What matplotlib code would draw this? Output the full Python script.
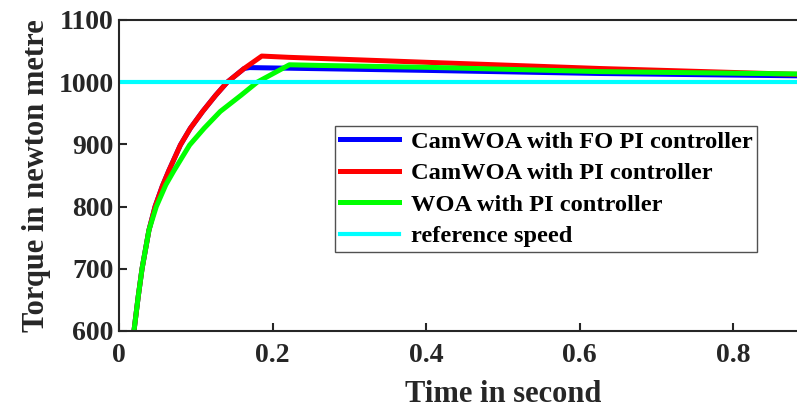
import matplotlib
matplotlib.use("Agg")
import matplotlib.pyplot as plt

# values
t_red = [0.0195, 0.025, 0.030, 0.039, 0.047, 0.0565, 0.065, 0.080, 0.093, 0.109,
         0.126, 0.141, 0.163, 0.186, 0.221, 0.40, 0.627, 0.90]
y_red = [600, 655, 700, 762, 800, 833, 858, 899, 926, 953,
         979, 1000, 1022, 1042, 1040, 1032, 1022, 1012]

t_blue = [0.0195, 0.025, 0.030, 0.039, 0.047, 0.0565, 0.065, 0.080, 0.093, 0.109,
          0.126, 0.141, 0.163, 0.170, 0.221, 0.40, 0.627, 0.90]
y_blue = [600, 655, 700, 762, 800, 833, 858, 899, 926, 953,
          979, 1000, 1022, 1023.5, 1022.5, 1019, 1014, 1010]

t_green = [0.0195, 0.025, 0.030, 0.039, 0.0486, 0.061, 0.0717, 0.092, 0.111, 0.132,
           0.159, 0.180, 0.213, 0.222, 0.26, 0.40, 0.627, 0.90]
y_green = [600, 655, 700, 762, 800, 835, 858, 899, 926, 953,
           979, 1000, 1022, 1028, 1027, 1024, 1017, 1013]

t_ref = [0.0, 1.0]
y_ref = [1000, 1000]

x_ticks = [0, 0.2, 0.4, 0.6, 0.8]
x_ticklabels = ["0", "0.2", "0.4", "0.6", "0.8"]
y_ticks = [600, 700, 800, 900, 1000, 1100]

labels = ["CamWOA with FO PI controller", "CamWOA with PI controller",
          "WOA with PI controller", "reference speed"]

plt.rcParams["font.family"] = ["Liberation Serif", "DejaVu Serif"]
plt.rcParams["font.weight"] = "bold"

fig = plt.figure(figsize=(7.97, 4.08), dpi=100)
# right edge of the axes runs past the figure, as in the reference
ax = fig.add_axes([119 / 797, 1 - 331 / 408, 767.5 / 797, 311 / 408])

ax.plot(t_blue, y_blue, color="#0000ff", lw=3.6, label=labels[0])
ax.plot(t_red, y_red, color="#ff0000", lw=3.6, label=labels[1])
ax.plot(t_green, y_green, color="#00ff00", lw=3.6, label=labels[2])
ax.plot(t_ref, y_ref, color="#00ffff", lw=3.0, label=labels[3])

ax.set_xlim(0, 1)
ax.set_ylim(600, 1100)
ax.set_xticks(x_ticks)
ax.set_xticklabels(x_ticklabels)
ax.set_yticks(y_ticks)
ax.tick_params(direction="in", length=6, width=1.5, labelsize=20, colors="#262626",
               labelcolor="#262626")
ax.tick_params(axis="x", pad=9)
ax.tick_params(axis="y", pad=4)
for s in ax.spines.values():
    s.set_linewidth(1.5)
    s.set_color("#262626")

ax.set_xlabel("Time in second", fontsize=22, fontweight="bold", color="#262626", labelpad=8)
ax.set_ylabel("Torque in newton metre", fontsize=22, fontweight="bold", color="#262626", labelpad=5)

leg = ax.legend(loc="upper left", bbox_to_anchor=((335 - 119) / 767.5, 1 - (126 - 20) / 311),
                fontsize=17.6, frameon=True, fancybox=False, edgecolor="#262626",
                handlelength=2.4, borderpad=0.2, labelspacing=0.38, handletextpad=0.5,
                borderaxespad=0)
leg.get_frame().set_linewidth(1.0)
for txt in leg.get_texts():
    txt.set_fontweight("bold")

fig.savefig("out.png", dpi=100)
